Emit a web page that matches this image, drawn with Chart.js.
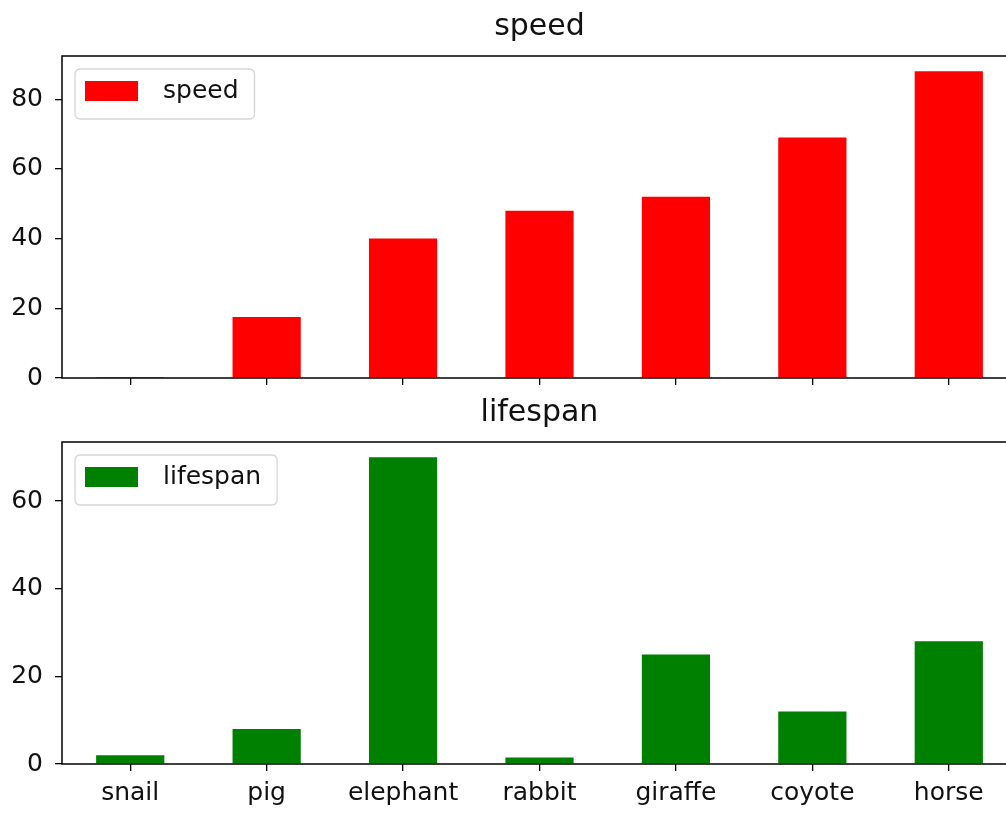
<!doctype html>
<html lang="en">
<head>
<meta charset="utf-8">
<title>speed and lifespan</title>
<style>
  * { margin: 0; padding: 0; }
  html, body { width: 1006px; height: 813px; overflow: hidden; background: #fff; }
  .chartBox { position: absolute; left: 0; width: 1017px; }
  #speedBox { top: 0; height: 410px; }
  #lifespanBox { top: 386px; height: 427px; }
</style>
</head>
<body>
<div class="chartBox" id="speedBox"><canvas id="speedChart" width="1017" height="410"></canvas></div>
<div class="chartBox" id="lifespanBox"><canvas id="lifespanChart" width="1017" height="427"></canvas></div>
<script src="https://cdn.jsdelivr.net/npm/chart.js/dist/chart.umd.min.js"></script>
<script>
// data
const animals = ['snail', 'pig', 'elephant', 'rabbit', 'giraffe', 'coyote', 'horse'];
const speed = [0.1, 17.5, 40, 48, 52, 69, 88];
const lifespan = [2, 8, 70, 1.5, 25, 12, 28];
const speedTicks = [0, 20, 40, 60, 80];
const lifespanTicks = [0, 20, 40, 60];

const FONT = 'DejaVu Sans';

// axes frame (matplotlib spines)
const frame = {
  id: 'frame',
  afterDraw(chart) {
    const { ctx, chartArea: a } = chart;
    ctx.save();
    ctx.strokeStyle = '#000';
    ctx.lineWidth = 1.5;
    ctx.strokeRect(a.left, a.top, a.right - a.left, a.bottom - a.top);
    ctx.restore();
  }
};

// legend box in the upper left of the plot area
const boxLegend = {
  id: 'boxLegend',
  afterDraw(chart) {
    const { ctx, chartArea } = chart;
    const ds = chart.data.datasets[0];
    ctx.save();
    ctx.font = '25px "' + FONT + '"';
    const tw = ctx.measureText(ds.label).width;
    const x = chartArea.left + 13, y = chartArea.top + 13;
    const w = 10 + 53 + 25 + tw + 16, h = 50;
    ctx.beginPath();
    ctx.roundRect(x, y, w, h, 5);
    ctx.fillStyle = 'rgba(255,255,255,0.8)';
    ctx.fill();
    ctx.strokeStyle = 'rgba(204,204,204,0.8)';
    ctx.lineWidth = 1.3;
    ctx.stroke();
    ctx.fillStyle = ds.backgroundColor;
    ctx.fillRect(x + 10, y + 12, 53, 20);
    ctx.fillStyle = '#111';
    ctx.textBaseline = 'middle';
    ctx.fillText(ds.label, x + 88, y + 22);
    ctx.restore();
  }
};

function makeChart(id, name, values, color, yTicks, showLabels, xHeight) {
  const yMax = Math.max(...values) * 1.05;
  return new Chart(document.getElementById(id), {
    type: 'bar',
    data: {
      labels: animals,
      datasets: [{
        label: name,
        data: values,
        backgroundColor: color,
        borderWidth: 0,
        categoryPercentage: 1,
        barPercentage: 0.5
      }]
    },
    options: {
      responsive: false,
      animation: false,
      layout: { padding: { left: 0, right: 0, top: 0, bottom: 0 } },
      plugins: {
        legend: { display: false },
        tooltip: { enabled: false },
        title: {
          display: true,
          fullSize: false,
          text: name,
          color: '#111',
          font: { family: FONT, size: 30, weight: 'normal', lineHeight: 1.2 },
          padding: { top: 9, bottom: 11 }
        }
      },
      scales: {
        x: {
          offset: true,
          border: { display: false },
          grid: { drawOnChartArea: false, drawTicks: true, tickLength: 7, color: '#000', lineWidth: 1.3, offset: false },
          ticks: {
            display: showLabels,
            color: '#111',
            padding: 7,
            maxRotation: 0,
            font: { family: FONT, size: 25 }
          },
          afterFit: s => { s.height = xHeight; }
        },
        y: {
          min: 0,
          max: yMax,
          border: { display: false },
          grid: { drawOnChartArea: false, drawTicks: true, tickLength: 7, color: '#000', lineWidth: 1.3 },
          ticks: {
            color: '#111',
            padding: 12,
            font: { family: FONT, size: 25 }
          },
          afterBuildTicks: s => { s.ticks = yTicks.map(v => ({ value: v })); },
          afterFit: s => { s.width = 62; }
        }
      }
    },
    plugins: [frame, boxLegend]
  });
}

makeChart('speedChart', 'speed', speed, 'red', speedTicks, false, 32);
makeChart('lifespanChart', 'lifespan', lifespan, 'green', lifespanTicks, true, 49);
</script>
</body>
</html>
